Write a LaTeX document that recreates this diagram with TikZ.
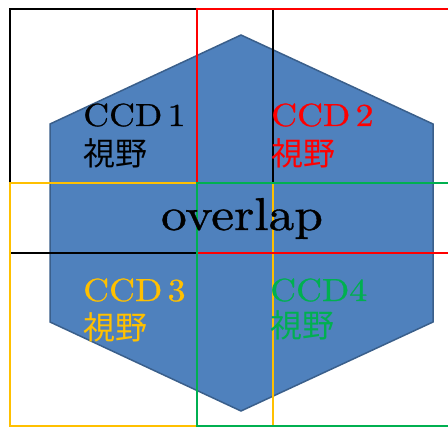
\documentclass[tikz,border=0pt]{standalone}
\usepackage{fontspec}
\newfontfamily\jpfont{Noto Sans CJK JP}
\newfontfamily\latinfont[FakeStretch=1.12, FakeBold=0.8]{lmroman10-regular.otf}
\definecolor{hexfillc}{HTML}{4F81BD}
\definecolor{hexdrawc}{HTML}{3A5F8B}
\definecolor{ccdred}{HTML}{FF0000}
\definecolor{ccdyellow}{HTML}{FFC000}
\definecolor{ccdgreen}{HTML}{00B050}
\tikzset{
  hexstyle/.style={fill=hexfillc, draw=hexdrawc, line width=1.5pt, line join=miter},
  rectline/.style={line width=2.8pt},
  lbl/.style={anchor=base west, inner sep=0pt, font=\latinfont\fontsize{32}{36}\selectfont},
  jplbl/.style={anchor=base west, inner sep=0pt, font=\jpfont\fontsize{32}{36}\selectfont},
  biglbl/.style={anchor=base, inner sep=0pt, font=\latinfont\fontsize{46}{52}\selectfont},
}
\begin{document}
\begin{tikzpicture}[x=1pt,y=-1pt]
\useasboundingbox (0,0) rectangle (448,428);
\clip (0,0) rectangle (448,428);
\fill[white] (0,0) rectangle (448,428);
% hexagon
\draw[hexstyle] (241,35) -- (433,124) -- (433,322) -- (241,411) -- (50,322) -- (50,124) -- cycle;
% fields of view
\draw[rectline, black]     (10,9)   rectangle (273,253);
\draw[rectline, ccdyellow] (10,183) rectangle (273,426);
\draw[rectline, ccdred]    (197,9)  rectangle (470,253);
\draw[rectline, ccdgreen]  (197,183) rectangle (470,426);
% labels
\node[lbl, text=black]       (c1) at (83,126)  {CCD\,1};
\node[jplbl, text=black]     (v1) at (83,166)  {視野};
\node[lbl, text=ccdred]      (c2) at (271,126) {CCD\,2};
\node[jplbl, text=ccdred]    (v2) at (271,166) {視野};
\node[lbl, text=ccdyellow]   (c3) at (83,301)  {CCD\,3};
\node[jplbl, text=ccdyellow] (v3) at (83,339)  {視野};
\node[lbl, text=ccdgreen]    (c4) at (270,301) {CCD4};
\node[jplbl, text=ccdgreen]  (v4) at (270,337) {視野};
\node[biglbl, text=black]    (ov) at (242,230) {overlap};
\end{tikzpicture}
\end{document}
